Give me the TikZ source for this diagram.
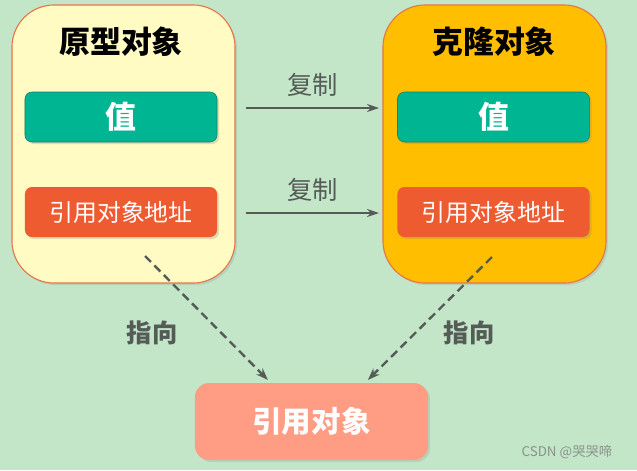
\documentclass[tikz,border=0pt]{standalone}
\usepackage{fontspec}
\setmainfont{Noto Sans CJK SC}
\usetikzlibrary{arrows.meta, positioning, shadows}
\definecolor{bgGreen}{HTML}{C3E6C9}
\definecolor{protoFill}{HTML}{FFFBC2}
\definecolor{cloneFill}{HTML}{FFBF00}
\definecolor{edgeOrange}{HTML}{E7754A}
\definecolor{valTeal}{HTML}{00B592}
\definecolor{valDark}{HTML}{14806A}
\definecolor{refRed}{HTML}{EE5B31}
\definecolor{objSalmon}{HTML}{FE9C84}
\definecolor{arrowGray}{HTML}{555B57}
\definecolor{markGray}{HTML}{8A918C}
\tikzset{
  outerBox/.style={rectangle, rounded corners=30pt, draw=edgeOrange, line width=0.8pt,
                   minimum width=5.575cm, minimum height=6.95cm,
                   drop shadow={opacity=0.2, shadow xshift=1.5pt, shadow yshift=-1.5pt}},
  valBox/.style={rectangle, rounded corners=5pt, draw=valDark, fill=valTeal,
                 text=white, font=\bfseries\fontsize{22}{25}\selectfont,
                 minimum width=4.8cm, minimum height=1.25cm,
                 drop shadow={opacity=0.25, shadow xshift=1.5pt, shadow yshift=-1.5pt}},
  refBox/.style={rectangle, rounded corners=5pt, fill=refRed,
                 text=white, font=\fontsize{17}{20}\selectfont,
                 minimum width=4.8cm, minimum height=1.25cm,
                 drop shadow={opacity=0.25, shadow xshift=1.5pt, shadow yshift=-1.5pt}},
  titleText/.style={font=\bfseries\fontsize{22}{26}\selectfont, text=black},
  arrowC/.style={-{Stealth[length=3mm, width=2mm]}, arrowGray, line width=1.3pt},
  arrowP/.style={-{Stealth[length=3mm, width=2.2mm]}, arrowGray, line width=1.7pt,
                 dash pattern=on 6pt off 3.5pt},
  labelText/.style={font=\fontsize{18}{21}\selectfont, text=arrowGray},
}
\begin{document}
\begin{tikzpicture}[x=0.025cm, y=-0.025cm]
  \fill[bgGreen] (0,0) rectangle (637,470);
  \useasboundingbox (0,0) rectangle (637,470);
  % two objects
  \node[outerBox, fill=protoFill] (proto) at (123.5,144) {};
  \node[outerBox, fill=cloneFill] (clone) at (494.5,144) {};
  \node[titleText] (protoTitle) at (121,42) {原型对象};
  \node[titleText] (cloneTitle) at (494,42) {克隆对象};
  \node[valBox] (protoVal) at (121,117) {值};
  \node[valBox] (cloneVal) at (493.5,117) {值};
  \node[refBox] (protoRef) at (121,212) {引用对象地址};
  \node[refBox] (cloneRef) at (493.5,212) {引用对象地址};
  % referenced object
  \node[rectangle, rounded corners=10pt, fill=objSalmon, text=white,
        font=\bfseries\fontsize{21}{24}\selectfont,
        minimum width=5.825cm, minimum height=1.925cm,
        drop shadow={opacity=0.2, shadow xshift=1.5pt, shadow yshift=-1.5pt}]
        (refObj) at (311.5,421.5) {引用对象};
  % copy arrows
  \coordinate (c1s) at (246,108);
  \coordinate (c1e) at (379,108);
  \coordinate (c2s) at (246,213);
  \coordinate (c2e) at (379,213);
  \draw[arrowC] (c1s) -- (c1e) node[midway, above=4pt, labelText] (copy1) {复制};
  \draw[arrowC] (c2s) -- (c2e) node[midway, above=4pt, labelText] (copy2) {复制};
  % pointer arrows
  \coordinate (p1s) at (145,256);
  \coordinate (p2s) at (492,257);
  \draw[arrowP] (p1s) -- ([xshift=-1.09cm, yshift=2pt]refObj.north);
  \draw[arrowP] (p2s) -- ([xshift=1.41cm, yshift=2pt]refObj.north);
  \node[labelText, font=\bfseries\fontsize{18}{21}\selectfont] (point1) at (152,333) {指向};
  \node[labelText, font=\bfseries\fontsize{18}{21}\selectfont] (point2) at (469,333) {指向};
  % watermark
  \node[text=markGray, font=\fontsize{9.5}{11}\selectfont] (mark) at (567,452) {CSDN @哭哭啼};
\end{tikzpicture}
\end{document}
